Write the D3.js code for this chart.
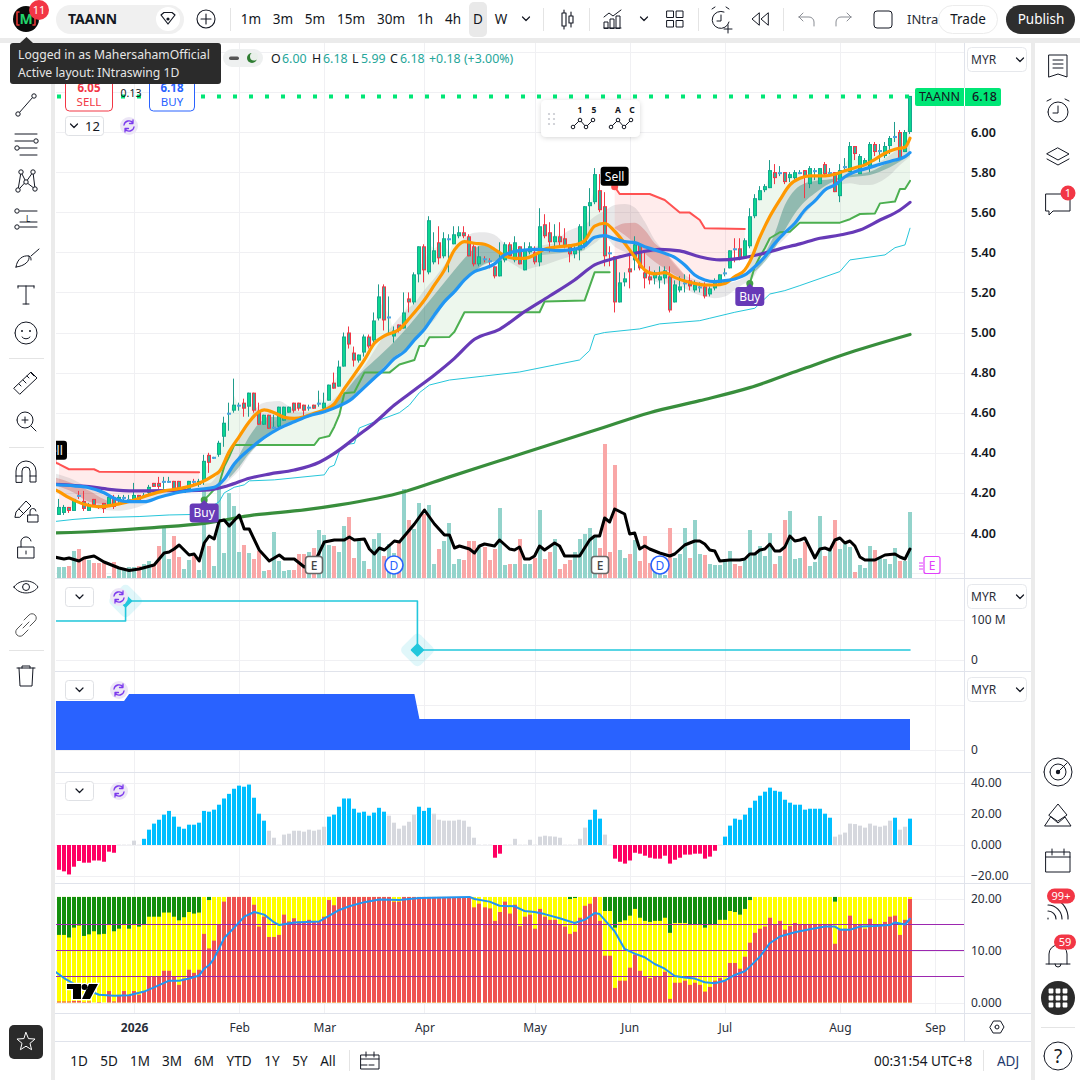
<!DOCTYPE html>
<html>
<head>
<meta charset="utf-8">
<script src="https://cdn.jsdelivr.net/npm/d3@7"></script>
<style>
  html, body { margin: 0; padding: 0; background: #fff; }
  text { font-family: "Noto Sans", sans-serif; fill: #131722; }
  .axis text { font-size: 12px; fill: #2a2e39; }
  .axis path, .axis line { display: none; }
</style>
</head>
<body>
<svg id="chart" width="1080" height="1080"></svg>
<script>
// candles, one per trading day
const opens = [
  4.09,4.10,4.13,4.11,4.19,4.16,4.11,4.17,4.14,4.15,
  4.14,4.18,4.16,4.17,4.16,4.16,4.19,4.18,4.20,4.25,
  4.25,4.25,4.26,4.26,4.26,4.20,4.22,4.26,4.24,4.26,
  4.39,4.37,4.39,4.48,4.60,4.61,4.64,4.65,4.63,4.70,
  4.61,4.54,4.59,4.53,4.53,4.56,4.60,4.65,4.65,4.64,
  4.62,4.64,4.64,4.62,4.66,4.75,4.73,4.83,5.00,4.90,
  4.86,4.90,4.98,4.96,5.07,5.23,5.08,4.98,5.04,5.02,
  5.17,5.15,5.29,5.43,5.30,5.35,5.45,5.38,5.46,5.44,
  5.48,5.50,5.48,5.43,5.34,5.37,5.36,5.33,5.28,5.36,
  5.44,5.36,5.43,5.31,5.40,5.40,5.35,5.54,5.50,5.45,
  5.48,5.47,5.44,5.39,5.41,5.43,5.63,5.65,5.71,5.63,
  5.40,5.38,5.15,5.25,5.32,5.36,5.44,5.30,5.28,5.27,
  5.26,5.27,5.28,5.15,5.21,5.24,5.26,5.21,5.23,5.23,
  5.19,5.22,5.24,5.29,5.32,5.42,5.42,5.37,5.43,5.58,
  5.66,5.71,5.72,5.80,5.80,5.80,5.77,5.77,5.80,5.81,
  5.74,5.81,5.74,5.84,5.80,5.80,5.68,5.82,5.80,5.93,
  5.79,5.84,5.82,5.94,5.91,5.88,5.93,5.98,6.00,5.90,
  6.00]
const closes = [
  4.13,4.13,4.11,4.17,4.18,4.12,4.14,4.14,4.13,4.12,
  4.18,4.13,4.18,4.18,4.17,4.19,4.16,4.19,4.23,4.23,
  4.23,4.26,4.26,4.22,4.21,4.23,4.26,4.25,4.26,4.36,
  4.35,4.38,4.45,4.55,4.60,4.64,4.64,4.62,4.70,4.61,
  4.54,4.59,4.52,4.53,4.63,4.63,4.63,4.61,4.62,4.61,
  4.63,4.62,4.65,4.65,4.74,4.72,4.83,4.98,4.94,4.86,
  4.89,4.98,4.93,5.06,5.18,5.06,5.08,5.01,5.01,5.10,
  5.15,5.29,5.43,5.31,5.56,5.41,5.37,5.47,5.47,5.49,
  5.50,5.48,5.38,5.34,5.38,5.36,5.35,5.28,5.36,5.44,
  5.38,5.45,5.34,5.41,5.43,5.35,5.53,5.48,5.45,5.48,
  5.45,5.43,5.39,5.42,5.53,5.63,5.65,5.79,5.61,5.38,
  5.39,5.15,5.25,5.27,5.30,5.44,5.32,5.27,5.26,5.30,
  5.28,5.31,5.11,5.24,5.23,5.25,5.23,5.24,5.23,5.18,
  5.22,5.26,5.29,5.30,5.41,5.41,5.37,5.46,5.58,5.67,
  5.71,5.73,5.81,5.77,5.80,5.75,5.79,5.80,5.80,5.78,
  5.82,5.81,5.82,5.79,5.80,5.70,5.81,5.83,5.93,5.89,
  5.88,5.86,5.94,5.90,5.91,5.93,5.97,5.98,5.87,6.00,
  6.18]
const highs = [
  4.17,4.14,4.13,4.17,4.21,4.21,4.15,4.17,4.14,4.15,
  4.18,4.19,4.19,4.19,4.19,4.25,4.19,4.20,4.24,4.25,
  4.28,4.28,4.28,4.26,4.26,4.23,4.26,4.27,4.27,4.39,
  4.40,4.38,4.46,4.58,4.65,4.77,4.65,4.67,4.70,4.70,
  4.65,4.59,4.59,4.59,4.63,4.63,4.63,4.65,4.65,4.64,
  4.64,4.64,4.71,4.70,4.74,4.80,4.86,5.00,5.03,4.93,
  4.89,4.99,4.99,5.10,5.24,5.24,5.18,5.03,5.04,5.20,
  5.20,5.30,5.43,5.44,5.58,5.50,5.53,5.50,5.49,5.53,
  5.53,5.53,5.49,5.44,5.43,5.38,5.37,5.33,5.45,5.45,
  5.45,5.48,5.43,5.45,5.45,5.43,5.62,5.59,5.55,5.54,
  5.55,5.52,5.44,5.43,5.54,5.63,5.72,5.82,5.79,5.70,
  5.43,5.38,5.30,5.30,5.40,5.48,5.44,5.40,5.33,5.31,
  5.33,5.33,5.33,5.26,5.28,5.29,5.29,5.26,5.25,5.25,
  5.23,5.27,5.29,5.32,5.41,5.47,5.47,5.47,5.62,5.69,
  5.73,5.74,5.86,5.84,5.83,5.80,5.80,5.81,5.81,5.81,
  5.83,5.82,5.82,5.85,5.82,5.80,5.84,5.87,5.95,5.93,
  5.89,5.87,5.95,5.95,5.94,5.95,5.98,6.05,6.01,6.01,
  6.18]
const lows = [
  4.09,4.09,4.10,4.11,4.17,4.11,4.11,4.13,4.12,4.10,
  4.13,4.12,4.15,4.16,4.15,4.16,4.16,4.18,4.19,4.23,
  4.22,4.22,4.25,4.22,4.21,4.20,4.22,4.24,4.23,4.24,
  4.30,4.37,4.38,4.43,4.51,4.60,4.61,4.58,4.58,4.60,
  4.54,4.54,4.52,4.52,4.52,4.56,4.60,4.60,4.61,4.58,
  4.61,4.62,4.63,4.61,4.66,4.72,4.73,4.83,4.92,4.83,
  4.85,4.88,4.92,4.95,5.06,5.01,4.99,4.95,5.00,5.02,
  5.10,5.14,5.25,5.25,5.29,5.34,5.34,5.37,5.30,5.44,
  5.47,5.47,5.38,5.33,5.33,5.35,5.32,5.27,5.28,5.35,
  5.38,5.35,5.34,5.31,5.39,5.34,5.33,5.47,5.40,5.43,
  5.43,5.42,5.35,5.37,5.36,5.42,5.53,5.64,5.60,5.33,
  5.33,5.10,5.15,5.23,5.22,5.31,5.31,5.22,5.24,5.24,
  5.22,5.24,5.10,5.15,5.20,5.20,5.21,5.20,5.20,5.17,
  5.18,5.21,5.24,5.28,5.32,5.35,5.36,5.37,5.42,5.57,
  5.66,5.70,5.72,5.74,5.78,5.74,5.75,5.76,5.79,5.67,
  5.72,5.76,5.74,5.78,5.78,5.70,5.65,5.81,5.80,5.86,
  5.79,5.83,5.80,5.88,5.85,5.87,5.89,5.95,5.86,5.90,
  5.99]
const volumes = [
  11,11,12,27,29,21,18,15,15,16,
  2,16,11,8,11,11,12,14,17,14,
  32,50,19,42,21,9,18,22,8,90,
  32,12,93,25,85,72,26,33,25,19,
  27,7,8,46,17,7,8,8,24,24,
  26,30,48,43,33,32,26,52,61,20,
  37,17,9,39,45,22,34,25,36,89,
  58,49,75,64,73,14,29,37,55,14,
  19,18,37,37,33,31,18,29,70,13,
  14,14,39,14,14,20,68,19,26,39,
  9,14,18,26,39,44,50,43,30,134,
  26,113,28,20,24,38,17,42,15,6,
  4,3,50,20,24,50,20,58,24,23,
  14,13,13,19,27,14,12,18,48,24,
  32,22,45,14,22,58,67,19,20,36,
  12,16,62,22,28,58,29,34,31,6,
  13,10,32,28,21,19,14,30,17,17,
  66]

// moving average of the volume
const volMaIdx = [-1,1,2,4,5,7,9,12,14,16,19,21,22,23,24,26,27,28,29,30,31,32,33,34,36,37,38,40,42,44,45,47,49,51,53,55,57,58,59,61,62,63,64,65,67,68,70,71,73,75,77,78,79,80,82,83,84,85,87,88,90,91,92,93,94,95,96,97,99,100,101,104,106,107,108,109,110,111,113,114,115,116,117,118,120,122,123,125,127,128,129,130,131,132,134,136,137,138,139,140,141,142,143,144,145,146,147,148,149,151,152,153,154,155,156,157,158,159,160,161,163,165,167,168,169,170]
const volMaVal = [21,19,20,17,20,22,16,10,7.5,9,13,25,26,29,33,23,24,17,35,42,39,57,58,52,63,49,49,28,17,23,19,19,11,15,36,38,38,41,38,39,29,24,30,28,37,36,48,54,68,54,43,43,30,32,29,25,32,34,32,38,29,28,31,19,19,22,32,28,35,32,22,22,38,42,42,60,56,69,64,44,45,29,32,29,25,22,24,33,37,37,34,28,27,17,18,18,19,24,24,28,29,34,27,27,31,42,37,38,40,20,29,30,28,38,40,35,37,32,21,18,18,23,24,21,19,29]

// moving averages on price
const orangeIdx = [-1,0,2,5,8,12,15,18,21,24,28,31,32,34,36,38,40,41,43,45,47,49,51,53,55,56,57,58,61,63,65,68,70,73,75,77,79,81,83,85,87,89,91,93,95,97,100,103,105,107,109,111,113,115,117,119,121,123,125,127,129,131,133,135,137,138,140,142,144,146,148,150,153,155,157,159,161,163,165,167,169,170]
const orangeVal = [4.218,4.206,4.176,4.143,4.131,4.145,4.165,4.19,4.21,4.221,4.248,4.289,4.306,4.406,4.481,4.555,4.605,4.614,4.60,4.577,4.572,4.58,4.597,4.614,4.644,4.68,4.72,4.755,4.863,4.946,4.983,5.016,5.071,5.162,5.237,5.312,5.412,5.453,5.445,5.44,5.415,5.383,5.37,5.37,5.387,5.415,5.428,5.437,5.458,5.531,5.545,5.505,5.445,5.378,5.312,5.292,5.299,5.275,5.257,5.245,5.237,5.237,5.245,5.279,5.312,5.353,5.475,5.578,5.661,5.736,5.769,5.781,5.781,5.789,5.807,5.822,5.836,5.864,5.894,5.914,5.924,5.969]
const blueIdx = [-1,3,6,9,11,14,17,20,24,28,31,33,35,38,41,44,47,50,53,56,58,60,63,65,67,69,71,73,75,77,79,81,83,85,87,89,92,96,100,103,105,107,109,111,113,115,117,119,121,123,125,127,129,131,133,135,137,139,141,143,145,147,149,151,153,155,157,159,161,163,165,167,169,170]
const blueVal = [4.241,4.235,4.226,4.201,4.173,4.156,4.156,4.178,4.203,4.218,4.228,4.268,4.344,4.417,4.476,4.522,4.555,4.585,4.605,4.634,4.66,4.703,4.773,4.818,4.87,4.905,4.963,5.016,5.088,5.154,5.204,5.262,5.304,5.32,5.342,5.387,5.408,5.415,5.408,5.415,5.432,5.475,5.483,5.467,5.453,5.448,5.428,5.412,5.395,5.375,5.337,5.287,5.262,5.254,5.259,5.267,5.287,5.328,5.378,5.445,5.498,5.545,5.611,5.656,5.711,5.736,5.777,5.802,5.816,5.831,5.847,5.86,5.877,5.897]
const purpleIdx = [-1,6,10,15,21,26,30,34,38,42,47,52,55,58,59,63,67,71,75,79,83,88,93,98,103,107,111,116,120,124,128,132,136,140,144,148,152,156,160,164,168,170]
const purpleVal = [4.243,4.231,4.218,4.21,4.211,4.211,4.215,4.238,4.273,4.294,4.314,4.353,4.397,4.452,4.472,4.549,4.638,4.713,4.788,4.871,4.966,5.016,5.104,5.182,5.262,5.337,5.37,5.40,5.415,5.407,5.378,5.362,5.37,5.39,5.417,5.442,5.47,5.486,5.511,5.561,5.611,5.649]
const longMaIdx = [-1,9,19,29,39,49,56,69,78,88,98,108,118,128,138,148,158,170]
const longMaVal = [4.0,4.01,4.027,4.048,4.09,4.115,4.14,4.206,4.28,4.36,4.44,4.52,4.60,4.66,4.725,4.813,4.90,4.99]
const cyanIdx = [-1,3,8,16,22,28,32,33,35,37,38,43,53,54,55,56,57,59,60,63,68,70,72,74,78,85,92,99,104,106,107,109,116,120,128,130,135,139,142,145,148,156,158,165,167,169,170]
const cyanVal = [4.057,4.068,4.077,4.082,4.09,4.093,4.156,4.2,4.228,4.24,4.26,4.265,4.29,4.328,4.338,4.406,4.44,4.447,4.524,4.554,4.60,4.638,4.70,4.738,4.763,4.783,4.803,4.838,4.863,4.91,4.988,5.0,5.018,5.043,5.059,5.071,5.101,5.121,5.192,5.209,5.234,5.304,5.362,5.387,5.423,5.437,5.52]

// trailing stop, green while long, red while short
const stopLong1Idx = [29,30,32,33,34,35,50,51,52,54,55,56,57,59,61,66,68,71,72,73,74,78,79,81,96,97,105,107,110]
const stopLong1Val = [4.165,4.19,4.244,4.331,4.381,4.439,4.439,4.439,4.472,4.484,4.53,4.589,4.697,4.702,4.80,4.80,4.84,4.863,4.933,4.933,4.976,4.978,5.004,5.101,5.101,5.154,5.159,5.30,5.30]
const stopLong2Idx = [138,139,140,141,142,144,146,148,156,158,160,163,164,167,168,169,170]
const stopLong2Val = [5.245,5.328,5.378,5.42,5.47,5.50,5.503,5.548,5.548,5.565,5.591,5.594,5.644,5.653,5.716,5.716,5.756]
const stopShort1Idx = [-1,0,2,7,8,28]
const stopShort1Val = [4.354,4.344,4.318,4.318,4.306,4.303]
const stopShort2Idx = [111,112,118,121,124,126,128,129,137]
const stopShort2Val = [5.727,5.691,5.691,5.661,5.598,5.598,5.561,5.52,5.516]

// ribbon around the averages
const greyIdx = [-1,3,6,9,12,15,18,21,24,28,30,32,34,36,38,40,42,44,46,48,50,52,54,56,58,60,62,64,67,69,71,73,75,77,79,81,83,85,87,89,91,93,95,97,99,101,103,105,107,109,111,113,115,117,119,121,123,125,127,129,131,133,135,137,138,140,142,144,146,148,150,152,154,156,158,160,162,164,166,168,170]
const greyTop = [4.298,4.264,4.223,4.19,4.168,4.165,4.19,4.203,4.218,4.245,4.248,4.306,4.406,4.489,4.564,4.639,4.655,4.658,4.63,4.605,4.605,4.614,4.647,4.697,4.763,4.80,4.87,4.95,5.046,5.104,5.146,5.212,5.27,5.337,5.403,5.47,5.498,5.5,5.487,5.445,5.42,5.412,5.428,5.437,5.445,5.495,5.52,5.536,5.578,5.607,5.636,5.641,5.624,5.553,5.461,5.403,5.337,5.287,5.265,5.25,5.245,5.245,5.254,5.279,5.353,5.453,5.57,5.669,5.736,5.769,5.781,5.786,5.794,5.802,5.811,5.822,5.836,5.852,5.885,5.919,5.944]
const greyBot = [4.211,4.156,4.131,4.115,4.111,4.123,4.151,4.181,4.198,4.223,4.223,4.223,4.264,4.314,4.389,4.447,4.489,4.522,4.547,4.564,4.58,4.597,4.614,4.63,4.655,4.70,4.74,4.79,4.863,4.896,4.971,5.021,5.063,5.146,5.196,5.262,5.304,5.337,5.354,5.362,5.337,5.312,5.325,5.337,5.354,5.37,5.387,5.412,5.445,5.478,5.428,5.403,5.378,5.295,5.254,5.245,5.245,5.22,5.195,5.179,5.171,5.179,5.212,5.245,5.254,5.328,5.403,5.445,5.495,5.561,5.62,5.678,5.719,5.736,5.744,5.736,5.736,5.752,5.786,5.836,5.877]
const tealAIdx = [34,36,38,40,42,44,47,50,53,57,60,63,67,70,73,76,79,81,83,85,87,89]
const tealATop = [4.298,4.389,4.481,4.547,4.58,4.577,4.572,4.592,4.61,4.70,4.79,4.86,4.955,5.038,5.129,5.22,5.312,5.37,5.42,5.437,5.412,5.382]
const tealABot = [4.273,4.331,4.397,4.447,4.489,4.522,4.555,4.584,4.60,4.65,4.71,4.78,4.88,4.93,5.021,5.112,5.204,5.262,5.304,5.342,5.354,5.37]
const tealBIdx = [96,100,105]
const tealBTop = [5.40,5.41,5.44]
const tealBBot = [5.385,5.395,5.41]
const tealCIdx = [139,141,143,145,147,149,151,154,158,162,166,170]
const tealCTop = [5.312,5.395,5.495,5.636,5.711,5.744,5.756,5.764,5.786,5.802,5.852,5.894]
const tealCBot = [5.304,5.353,5.42,5.511,5.594,5.653,5.694,5.744,5.774,5.786,5.824,5.885]
const roseAIdx = [-1,3,6,9,11]
const roseATop = [4.278,4.245,4.211,4.168,4.148]
const roseABot = [4.24,4.201,4.156,4.145,4.143]
const roseBIdx = [111,113,115,117,119,121,123,125]
const roseBTop = [5.525,5.545,5.548,5.511,5.445,5.403,5.345,5.287]
const roseBBot = [5.52,5.486,5.445,5.395,5.353,5.32,5.287,5.265]

// flows pane and market cap pane
const flowIdx = [-1,13.3,13.3,71.6,71.6,170]
const flowVal = [97.5,97.5,147.5,147.5,25,25]
const flowMarkIdx = [13.3,71.6]
const flowMarkVal = [147.5,25]
const capIdx = [-1,13,14,71,72,170]
const capVal = [49,49,56,56,31,31]

// momentum histogram
const histogram = [
  -16,-17,-19,-14,-10.3,-11.4,-11.4,-10,-10,-10.8,
  -4.3,-5,0.2,0.2,0.2,2.8,0.2,4,9.9,13.8,
  16.3,19.6,22,18.3,11.8,10.5,13.1,13.1,14.4,22,
  21.5,22.8,26,30,33,36.3,38.3,37.6,39,30.5,
  20.2,15.7,9.2,4.7,0.2,6.7,7.3,9.2,9.2,8.6,
  9.9,9.2,9.9,11.8,18.3,19.6,24.7,30,30,23.4,
  20.9,21.5,18.9,20.9,24,21.5,18.9,14.4,10.5,12.5,
  15,19.6,24.7,22,24,20.2,16.3,15.7,15.7,15.7,
  16.3,15.7,11.8,4.7,0.2,0.2,0.2,-8.2,-5.6,0.2,
  0.2,4,0.2,0.2,3.4,0.2,5.4,6,5.6,5.4,
  4.7,0.2,0.2,0.2,4,11.2,16.3,22.8,17,6.7,
  0.2,-8.8,-10.8,-12,-10,-5,-5.6,-6.9,-8.2,-8.8,
  -8.8,-6.9,-12,-9.5,-8.2,-6.2,-6.2,-5.6,-5.6,-8.8,
  -7.5,-3.7,0.2,5.4,12.5,17,16.3,19.6,24,28.6,
  31.8,34.4,37,35,34.4,29.2,27.3,26,26,22.8,
  23.4,23.4,23.4,20.2,17.6,5.4,6.7,8,13.8,13.5,
  12.5,11.2,13.8,12.5,11.8,12.5,15.7,17.6,9.9,11.8,
  17]
const histStrongFrom = [17,54,72,106,133,167,170]
const histStrongTo = [41,65,74,108,154,167,170]

// stacked oscillator pane: red from zero, yellow to greenFloor, green to stackTop
const stackTop = 20.3
const stackRed = [
  .2,.2,.2,.3,.3,.1,.2,0,.1,0,
  2.2,.2,1.3,2.2,1.5,2.2,1.5,2.2,4.9,4.9,
  4.9,6.1,6.1,4.9,3.4,4.6,6.3,5.7,6.3,13.2,
  10.4,11.9,14.9,19.4,20.3,20.3,20.3,20.3,20.3,18.8,
  14.6,16.5,12.6,12.6,13,16.9,15.6,16.2,15.6,15.6,
  15.9,15.6,15.6,16.5,19.7,18.7,20.3,20.3,20.3,20.3,
  20.3,20.3,20.3,20.3,20.3,20.3,20.3,19.4,19.4,20.3,
  20.3,20.3,20.3,20.3,20.3,20.3,20.3,20.3,20.3,20.3,
  20.3,20.3,20.3,18.3,19,18.3,18.1,15.7,17.4,19.4,
  17.1,18.8,14.7,16.5,16.9,14.2,18,16.5,15.9,15.9,
  15.1,14.6,13.2,13.6,16.3,18.6,19,20.3,15.7,9,
  9,2.8,4.2,4.2,6.7,9.2,6.1,4.9,4.7,4.9,
  4.9,5.9,.7,3.8,3.8,4.2,3.4,3.8,3.4,2.1,
  3,4.2,4.7,4.2,7.6,7.6,6.5,8.8,11.5,13.4,
  14.2,14.6,16.3,15,15.7,14,14.7,15.3,15.1,14.9,
  14.9,15.1,15.1,15.1,15.1,11.3,14.2,14.2,16.7,14.9,
  14.9,14.2,16.1,14.9,15.1,15.5,16.5,16.7,13,15.9,
  19.9]
const stackGreenFloor = [
  13,13,12.5,14.4,14.8,12.8,13.1,13.7,13.1,13.2,
  14.9,13.7,14.2,14.9,14.2,14.9,14.6,14.9,16.5,16.5,
  16.5,17.3,17.3,16.5,15.8,16.4,17.4,17.1,17.3,20.3,
  19.7,20.3,20.3,20.3,20.3,20.3,20.3,20.3,20.3,20.3,
  20.3,20.3,20.3,20.3,20.3,20.3,20.3,20.3,20.3,20.3,
  20.3,20.3,20.3,20.3,20.3,20.3,20.3,20.3,20.3,20.3,
  20.3,20.3,20.3,20.3,20.3,20.3,20.3,20.3,20.3,20.3,
  20.3,20.3,20.3,20.3,20.3,20.3,20.3,20.3,20.3,20.3,
  20.3,20.3,20.3,20.3,20.3,20.3,20.3,20.3,20.3,20.3,
  20.3,20.3,20.3,20.3,20.3,20.3,20.3,20.3,20.3,20.3,
  20.3,20.3,19.9,20.1,20.3,20.3,20.3,20.3,20.3,17.6,
  17.6,14.4,15.5,15.8,16.7,18,16.3,15.7,15.5,15.7,
  15.7,16.3,13.4,15.3,15.3,15.3,14.9,15.1,14.9,14.4,
  14.9,15.1,15.9,15.9,17.6,17.4,16.9,18,19.7,20.3,
  20.3,20.3,20.3,20.3,20.3,20.3,20.3,20.3,20.3,20.3,
  20.3,20.3,20.3,20.3,20.3,19.4,20.3,20.3,20.3,20.3,
  20.3,20.3,20.3,20.3,20.3,20.3,20.3,20.3,20.3,20.3,
  20.3]
const signalIdx = [-1,1,3,6,8,11,14,17,19,22,24,26,28,29,30,31,33,35,37,39,41,43,44,47,52,54,56,58,61,64,68,72,82,83,86,88,91,93,95,97,100,103,105,107,108,109,111,113,115,117,119,121,123,125,127,129,131,133,135,137,138,140,142,144,147,150,153,155,156,158,160,163,166,167,169,170]
const signalVal = [6.1,4.7,3.6,2.2,1.5,1.3,1.4,2.1,2.9,4.2,4.2,4.6,5.2,6.5,7.2,8.5,12.4,14.4,16.5,17.4,16.9,15.4,14.9,15.4,15.6,16.7,17.8,18.5,19.3,19.8,19.7,20.1,20.3,19.9,19.4,18.6,18.5,17.6,17.4,17,16.2,15.3,15.9,17.2,17,15.9,13.7,10.3,9.4,8.7,7.4,6.5,5.1,4.8,4.6,3.9,3.7,4.2,5.3,6,6.9,8.8,11.4,12.7,13.5,14.1,14.6,14.6,14,14,14.6,14.7,14.9,15.4,15,16.1]
const stackLevels = [5,10,15]

// axes
const priceTicks = [6.4,6.2,6.0,5.8,5.6,5.4,5.2,5.0,4.8,4.6,4.4,4.2,4.0,3.8]
const priceLabels = [6.0,5.8,5.6,5.4,5.2,5.0,4.8,4.6,4.4,4.2,4.0]
const flowTicks = [100,0]
const capTicks = [0]
const histTicks = [40,20,0,-20]
const stackTicks = [20,10,0]
const monthIdx = [15,36,53,73,95,114,133,156,175]
const monthLabels = ["2026","Feb","Mar","Apr","May","Jun","Jul","Aug","Sep"]

// corporate events and signals
const earningsIdx = [51,108]
const dividendIdx = [67,120]
const buyIdx = [29,138]
const buyPrice = [4.165,5.245]
const sellIdx = [-1.2,111]
const sellPrice = [4.36,5.727]
const lastClose = 6.18

const svg = d3.select("#chart")
const PANE_L = 56, AXIS_X = 964

const x = d3.scaleLinear().domain([0, 170]).range([59, 910])
const yPrice = d3.scaleLinear().domain([4, 6]).range([533, 132])
const yVol = d3.scaleLinear().domain([0, 134]).range([578, 444])
const yFlow = d3.scaleLinear().domain([0, 100]).range([660, 620])
const yCap = d3.scaleLinear().domain([0, 56]).range([750, 694])
const yHist = d3.scaleLinear().domain([-20, 40]).range([876, 783])
const yStack = d3.scaleLinear().domain([0, 20]).range([1002.5, 898.5])

const panes = [
  { id: "pMain", top: 43, bottom: 578, grid: priceTicks.map(yPrice) },
  { id: "pFlow", top: 579, bottom: 671, grid: flowTicks.map(yFlow) },
  { id: "pCap", top: 672, bottom: 772, grid: [705, yCap(0)] },
  { id: "pHist", top: 773, bottom: 883, grid: histTicks.map(yHist) },
  { id: "pStack", top: 884, bottom: 1013, grid: stackTicks.map(yStack) },
]

const defs = svg.append("defs")
panes.forEach(p => {
  defs.append("clipPath").attr("id", "clip-" + p.id).append("rect")
    .attr("x", PANE_L).attr("y", p.top).attr("width", AXIS_X - PANE_L).attr("height", p.bottom - p.top)
})
const filter = defs.append("filter").attr("id", "soft").attr("x", "-20%").attr("y", "-20%").attr("width", "140%").attr("height", "150%")
filter.append("feDropShadow").attr("dx", 0).attr("dy", 1).attr("stdDeviation", 2.5).attr("flood-color", "#000").attr("flood-opacity", 0.16)

// page frame
svg.append("rect").attr("width", 1080).attr("height", 1080).attr("fill", "#fff")
svg.append("rect").attr("x", 0).attr("y", 38).attr("width", 1080).attr("height", 5).attr("fill", "#ebebeb")
svg.append("rect").attr("x", 51).attr("y", 38).attr("width", 4).attr("height", 1042).attr("fill", "#ebebeb")
svg.append("rect").attr("x", 1031).attr("y", 38).attr("width", 4).attr("height", 1042).attr("fill", "#ebebeb")

// grid
const gridLayer = svg.append("g").attr("stroke", "#f0f0f3").attr("stroke-width", 1)
panes.forEach(p => {
  p.grid.forEach(v => {
    const yy = Math.round(v) + .5
    if (yy < p.top || yy > p.bottom) return
    gridLayer.append("line").attr("x1", PANE_L).attr("x2", AXIS_X).attr("y1", yy).attr("y2", yy)
  })
  monthIdx.forEach(i => {
    const xx = Math.round(x(i)) + .5
    gridLayer.append("line").attr("x1", xx).attr("x2", xx).attr("y1", p.top).attr("y2", p.bottom)
  })
})

const line = (idx, val, yScale, curve) => d3.line()
  .x((d, i) => x(idx[i]))
  .y(d => yScale(d))
  .curve(curve || d3.curveMonotoneX)(val)

const band = (idx, top, bot, yScale) => d3.area()
  .x((d, i) => x(idx[i]))
  .y0((d, i) => yScale(bot[i]))
  .y1(d => yScale(d))
  .curve(d3.curveMonotoneX)(top)

const main = svg.append("g").attr("clip-path", "url(#clip-pMain)")

// volume goes under everything on the main pane
main.append("g").selectAll("rect").data(volumes).enter().append("rect")
  .attr("x", (d, i) => Math.round(x(i) - 2))
  .attr("width", 4)
  .attr("y", d => yVol(d))
  .attr("height", d => yVol(0) - yVol(d))
  .attr("fill", (d, i) => closes[i] >= opens[i] ? "#93d3cb" : "#f9a7a7")

// fill between the stop and the mid price
const drawStopFill = (idx, val, color) => {
  const from = Math.max(0, Math.ceil(idx[0])), to = idx[idx.length - 1]
  const stop = d3.scaleLinear().domain(idx).range(val)
  const days = d3.range(from, to + 1)
  main.append("path")
    .attr("d", d3.area().x(i => x(i))
      .y0(i => yPrice(stop(i)))
      .y1(i => yPrice((highs[i] + lows[i]) / 2))(days))
    .attr("fill", color)
}
drawStopFill(stopShort1Idx, stopShort1Val, "rgba(255,82,82,.11)")
drawStopFill(stopShort2Idx, stopShort2Val, "rgba(255,82,82,.11)")
drawStopFill(stopLong1Idx, stopLong1Val, "rgba(76,175,80,.1)")
drawStopFill(stopLong2Idx, stopLong2Val, "rgba(76,175,80,.1)")

main.append("path").attr("d", band(greyIdx, greyTop, greyBot, yPrice)).attr("fill", "rgba(110,113,120,.16)")
const bands = [
  [tealAIdx, tealATop, tealABot, "rgba(0,105,92,.33)"],
  [tealBIdx, tealBTop, tealBBot, "rgba(0,105,92,.2)"],
  [tealCIdx, tealCTop, tealCBot, "rgba(0,105,92,.33)"],
  [roseAIdx, roseATop, roseABot, "rgba(190,40,40,.25)"],
  [roseBIdx, roseBTop, roseBBot, "rgba(190,40,40,.25)"],
]
bands.forEach(b => main.append("path").attr("d", band(b[0], b[1], b[2], yPrice)).attr("fill", b[3]))

const drawLine = (g, idx, val, yScale, color, width, curve) => g.append("path")
  .attr("d", line(idx, val, yScale, curve))
  .attr("fill", "none").attr("stroke", color).attr("stroke-width", width)
  .attr("stroke-linejoin", "round").attr("stroke-linecap", "round")

drawLine(main, longMaIdx, longMaVal, yPrice, "#388e3c", 3.2)
drawLine(main, cyanIdx, cyanVal, yPrice, "#26c6da", 1, d3.curveLinear)
drawLine(main, stopLong1Idx, stopLong1Val, yPrice, "#4caf50", 2, d3.curveLinear)
drawLine(main, stopLong2Idx, stopLong2Val, yPrice, "#4caf50", 2, d3.curveLinear)
drawLine(main, stopShort1Idx, stopShort1Val, yPrice, "#ff5252", 2, d3.curveLinear)
drawLine(main, stopShort2Idx, stopShort2Val, yPrice, "#ff5252", 2, d3.curveLinear)

// candles
const candles = main.append("g").selectAll("g").data(closes).enter().append("g")
candles.append("line")
  .attr("x1", (d, i) => Math.round(x(i)) - .5).attr("x2", (d, i) => Math.round(x(i)) - .5)
  .attr("y1", (d, i) => yPrice(highs[i])).attr("y2", (d, i) => yPrice(lows[i]))
  .attr("stroke", (d, i) => d >= opens[i] ? "#1f9c8c" : "#f23645").attr("stroke-width", 1)
const bodyTop = i => yPrice(Math.max(opens[i], closes[i]))
const bodyH = i => Math.max(2, Math.abs(yPrice(opens[i]) - yPrice(closes[i])))
candles.append("rect")
  .attr("x", (d, i) => Math.round(x(i)) - 2).attr("width", 4)
  .attr("y", (d, i) => bodyTop(i)).attr("height", (d, i) => bodyH(i))
  .attr("fill", (d, i) => d >= opens[i] ? "#14a88f" : "#f23645")
candles.append("rect")
  .attr("x", (d, i) => Math.round(x(i)) - 1).attr("width", 2)
  .attr("y", (d, i) => bodyTop(i) + 1).attr("height", (d, i) => Math.max(0, bodyH(i) - 2))
  .attr("fill", (d, i) => d >= opens[i] ? "#0cd68f" : "#3aa99a")
// very small candles read blue under the ribbon
candles.filter((d, i) => Math.abs(d - opens[i]) < .011).select("rect")
  .attr("fill", "#4aa3df")

drawLine(main, purpleIdx, purpleVal, yPrice, "#673ab7", 3.2)
drawLine(main, orangeIdx, orangeVal, yPrice, "#ff9800", 3.2)
drawLine(main, blueIdx, blueVal, yPrice, "#2196f3", 3.2)
drawLine(main, volMaIdx, volMaVal, yVol, "#000", 3, d3.curveLinear)

// last price
main.append("line").attr("x1", PANE_L + 1).attr("x2", x(170) + 1)
  .attr("y1", Math.round(yPrice(lastClose)) + .5).attr("y2", Math.round(yPrice(lastClose)) + .5)
  .attr("stroke", "#00e676").attr("stroke-width", 4).attr("stroke-dasharray", "4 12")

// buy and sell flags
buyIdx.forEach((idx, k) => {
  const bx = x(idx), by = yPrice(buyPrice[k])
  main.append("circle").attr("cx", bx).attr("cy", by).attr("r", 3.5).attr("fill", "#43a047")
  main.append("path").attr("d", `M${bx - 4},${by + 4}L${bx},${by}L${bx + 4},${by + 4}Z`).attr("fill", "#673ab7")
  main.append("rect").attr("x", bx - 14.5).attr("y", by + 3.5).attr("width", 29).attr("height", 19).attr("rx", 3).attr("fill", "#673ab7")
  main.append("text").attr("x", bx).attr("y", by + 17.5).attr("text-anchor", "middle").attr("font-size", 12).style("fill", "#fff").text("Buy")
})
sellIdx.forEach((idx, k) => {
  const bx = x(idx), by = yPrice(sellPrice[k])
  main.append("circle").attr("cx", bx).attr("cy", by).attr("r", 3.5).attr("fill", "#ff5252")
  main.append("rect").attr("x", bx - 14).attr("y", by - 20).attr("width", 28).attr("height", 19).attr("rx", 3).attr("fill", "#000")
  main.append("text").attr("x", bx).attr("y", by - 6).attr("text-anchor", "middle").attr("font-size", 12).style("fill", "#fff").text("Sell")
})

// earnings and dividend badges
const evY = 565
earningsIdx.forEach(idx => {
  const ex = Math.round(x(idx))
  main.append("rect").attr("x", ex - 8.5).attr("y", evY - 8.5).attr("width", 17).attr("height", 17).attr("rx", 3)
    .attr("fill", "#fff").attr("stroke", "#666").attr("stroke-width", 1.5)
  main.append("text").attr("x", ex).attr("y", evY + 4.5).attr("text-anchor", "middle").attr("font-size", 12).attr("font-weight", 500).style("fill", "#444").text("E")
})
dividendIdx.forEach(idx => {
  const ex = Math.round(x(idx))
  main.append("circle").attr("cx", ex).attr("cy", evY).attr("r", 9).attr("fill", "#fff").attr("stroke", "#2962ff").attr("stroke-width", 1.6)
  main.append("text").attr("x", ex).attr("y", evY + 4.5).attr("text-anchor", "middle").attr("font-size", 12).style("fill", "#2962ff").text("D")
})
main.append("rect").attr("x", 924).attr("y", 556.5).attr("width", 16).attr("height", 17).attr("rx", 2)
  .attr("fill", "#fff").attr("stroke", "#e040fb").attr("stroke-width", 1.2)
main.append("path").attr("d", "M919,563h4M919,566h4M919,569h4").attr("stroke", "#e040fb").attr("stroke-width", 1)
main.append("text").attr("x", 932).attr("y", 569.5).attr("text-anchor", "middle").attr("font-size", 12).style("fill", "#e040fb").text("E")

// flows pane
const flow = svg.append("g").attr("clip-path", "url(#clip-pFlow)")
drawLine(flow, flowIdx, flowVal, yFlow, "#22c7dc", 1.6, d3.curveLinear)
flowMarkIdx.forEach((idx, k) => {
  const t = `translate(${x(idx)},${yFlow(flowMarkVal[k])})rotate(45)`
  flow.append("rect").attr("x", -13).attr("y", -13).attr("width", 26).attr("height", 26).attr("rx", 5).attr("fill", "#22c7dc").attr("opacity", .14).attr("transform", t)
  flow.append("rect").attr("x", -5).attr("y", -5).attr("width", 10).attr("height", 10).attr("rx", 1).attr("fill", "#22c7dc").attr("transform", t)
})

// market cap pane
svg.append("g").attr("clip-path", "url(#clip-pCap)").append("path")
  .attr("d", d3.area().x((d, i) => x(capIdx[i])).y0(yCap(0)).y1(d => yCap(d))(capVal))
  .attr("fill", "#2962ff")

// histogram pane
const isStrong = i => histStrongFrom.some((f, k) => i >= f && i <= histStrongTo[k])
svg.append("g").selectAll("rect").data(histogram).enter().append("rect")
  .attr("x", (d, i) => Math.round(x(i) - 2))
  .attr("width", 4)
  .attr("y", d => yHist(Math.max(d, 0)))
  .attr("height", d => Math.abs(yHist(d) - yHist(0)))
  .attr("fill", (d, i) => d < 0 ? "#ff0062" : isStrong(i) ? "#00bfff" : "#d6d8de")

// stacked pane
const stackPane = svg.append("g").attr("clip-path", "url(#clip-pStack)")
const stackBars = stackPane.append("g").selectAll("g").data(stackRed).enter().append("g")
const barAt = sel => sel.attr("x", (d, i) => Math.round(x(i) - 2)).attr("width", 4)
barAt(stackBars.append("rect")).attr("y", yStack(stackTop)).attr("height", yStack(0) - yStack(stackTop)).attr("fill", "#ffff00")
barAt(stackBars.append("rect"))
  .attr("y", yStack(stackTop))
  .attr("height", (d, i) => yStack(stackGreenFloor[i]) - yStack(stackTop))
  .attr("fill", "#138f0c")
barAt(stackBars.append("rect"))
  .attr("y", d => yStack(d))
  .attr("height", d => yStack(0) - yStack(d))
  .attr("fill", "#ef5350")
stackLevels.forEach(v => {
  stackPane.append("line").attr("x1", PANE_L).attr("x2", AXIS_X).attr("y1", yStack(v)).attr("y2", yStack(v))
    .attr("stroke", "#9c27b0").attr("stroke-width", 1)
})
drawLine(stackPane, signalIdx, signalVal, yStack, "#2196f3", 2, d3.curveLinear)

// chart vendor mark, bottom left of the last pane
const logo = stackPane.append("g").attr("transform", "translate(67,984)")
logo.append("path").attr("d", "M0,0H14V15H6V5H0Z M14.5,3a3,3 0 1 0 6,0a3,3 0 1 0 -6,0Z M22,0H31L23,15H15Z")
  .attr("fill", "#000").attr("stroke", "#fff").attr("stroke-width", 2.5).attr("paint-order", "stroke")

// pane borders and price axis rule
const sep = svg.append("g").attr("stroke", "#e0e3eb")
;[578.5, 671.5, 772.5, 883.5, 1013.5, 1041.5].forEach(v => {
  sep.append("line").attr("x1", 55).attr("x2", 1031).attr("y1", v).attr("y2", v)
})
sep.append("line").attr("x1", AXIS_X + .5).attr("x2", AXIS_X + .5).attr("y1", 43).attr("y2", 1041)

// axes
const axisG = svg.append("g").attr("class", "axis")
const priceAxis = axisG.append("g").attr("transform", `translate(${AXIS_X},0)`)
  .call(d3.axisRight(yPrice).tickValues(priceLabels).tickFormat(d3.format(".2f")).tickSize(0).tickPadding(7))
priceAxis.selectAll("text").attr("font-weight", 600).style("font-size", "12.5px").style("fill", "#131722")
axisG.append("g").attr("transform", `translate(${AXIS_X},0)`)
  .call(d3.axisRight(yFlow).tickValues(flowTicks).tickFormat(d => d ? d + " M" : "0").tickSize(0).tickPadding(7))
axisG.append("g").attr("transform", `translate(${AXIS_X},0)`)
  .call(d3.axisRight(yCap).tickValues(capTicks).tickFormat(() => "0").tickSize(0).tickPadding(7))
axisG.append("g").attr("transform", `translate(${AXIS_X},0)`)
  .call(d3.axisRight(yHist).tickValues(histTicks).tickFormat(d => d == 0 ? "0.000" : d < 0 ? "\u2212" + d3.format(".2f")(-d) : d3.format(".2f")(d)).tickSize(0).tickPadding(7))
axisG.append("g").attr("transform", `translate(${AXIS_X},0)`)
  .call(d3.axisRight(yStack).tickValues(stackTicks).tickFormat(d => d == 0 ? "0.000" : d3.format(".2f")(d)).tickSize(0).tickPadding(7))
const timeAxis = axisG.append("g").attr("transform", "translate(0,1020)")
  .call(d3.axisBottom(x).tickValues(monthIdx).tickFormat((d, i) => monthLabels[i]).tickSize(0).tickPadding(3))
timeAxis.selectAll("text").filter((d, i) => i == 0).attr("font-weight", 700)

// last price tag
svg.append("rect").attr("x", 915).attr("y", 88).attr("width", 86).attr("height", 18).attr("rx", 2).attr("fill", "#00e676")
svg.append("line").attr("x1", 964.5).attr("x2", 964.5).attr("y1", 88).attr("y2", 106).attr("stroke", "#fff")
svg.append("text").attr("x", 919).attr("y", 101).attr("font-size", 12.5).text("TAANN")
svg.append("text").attr("x", 972).attr("y", 101).attr("font-size", 12.5).attr("font-weight", 500).text("6.18")

// ---- ui chrome ----
const ink = "#131722"
const txt = (tx, ty, s, size, opts) => {
  const o = opts || {}
  return svg.append("text").attr("x", tx).attr("y", ty).attr("font-size", size || 13.5)
    .attr("text-anchor", o.anchor || "start").attr("font-weight", o.weight || 400)
    .style("fill", o.color || ink).text(s)
}
const icon = (ix, iy, d, opts) => {
  const o = opts || {}
  const g = svg.append("g").attr("transform", `translate(${ix},${iy})`)
  g.append("path").attr("d", d).attr("fill", o.fill || "none").attr("stroke", o.color || ink)
    .attr("stroke-width", o.width || 1).attr("stroke-linecap", "round").attr("stroke-linejoin", "round")
  ;(o.dots || []).forEach(c => g.append("circle").attr("cx", c[0]).attr("cy", c[1]).attr("r", c[2] || 2.2)
    .attr("fill", "#fff").attr("stroke", o.color || ink))
  return g
}
const chevron = (cx, cy, color) => icon(cx, cy, "M-3.5,-2L0,1.5L3.5,-2", { color: color || ink, width: 1.2 })
const vsep = (vx, y1, y2) => svg.append("line").attr("x1", vx + .5).attr("x2", vx + .5).attr("y1", y1).attr("y2", y2).attr("stroke", "#e4e4e4")
const hsep = (x1, x2, hy) => svg.append("line").attr("x1", x1).attr("x2", x2).attr("y1", hy + .5).attr("y2", hy + .5).attr("stroke", "#e4e4e4")
const badge = (bx, by, s, w) => {
  svg.append("rect").attr("x", bx - w / 2).attr("y", by - 7.5).attr("width", w).attr("height", 15).attr("rx", 7.5).attr("fill", "#f23645")
  txt(bx, by + 4, s, 11, { anchor: "middle", color: "#fff" })
}

// top bar
svg.append("circle").attr("cx", 26).attr("cy", 19).attr("r", 13).attr("fill", "#0a0a0a")
txt(26, 24, "M", 14, { anchor: "middle", color: "#22d36b", weight: 700 })
icon(26, 19, "M-9,-7H-7M-9,-7V6H-7M9,-7H7M9,-7V6H7", { color: "#e53935", width: 1.6 })
svg.append("circle").attr("cx", 39).attr("cy", 10).attr("r", 10).attr("fill", "#f23645")
txt(39, 14, "11", 11, { anchor: "middle", color: "#fff" })
svg.append("rect").attr("x", 56).attr("y", 5).attr("width", 128).attr("height", 29).attr("rx", 14.5).attr("fill", "#f0f0f0")
txt(68, 24, "TAANN", 14, { weight: 700 })
svg.append("circle").attr("cx", 168).attr("cy", 19).attr("r", 12).attr("fill", "#fff")
icon(168, 19, "M-7,-4L-4,-6.5H4L7,-4L0,5Z", { width: 1.2 })
svg.append("circle").attr("cx", 168).attr("cy", 19).attr("r", 1.6).attr("fill", ink)
icon(206, 19, "M-9,0a9,9 0 1 0 18,0a9,9 0 1 0 -18,0M-5,0H5M0,-5V5", { width: 1.1 })
vsep(230, 8, 31)
const intervals = [["1m", 251], ["3m", 283], ["5m", 315], ["15m", 351], ["30m", 391], ["1h", 425], ["4h", 453], ["D", 478], ["W", 501]]
svg.append("rect").attr("x", 469).attr("y", 2).attr("width", 18).attr("height", 35).attr("rx", 5).attr("fill", "#e9e9e9")
intervals.forEach(d => txt(d[1], 24, d[0], 13.5, { anchor: "middle" }))
chevron(526, 19)
vsep(543, 8, 31)
icon(567, 19, "M-5,-6H-1V7H-5ZM-3,-9V-6M-3,7V10M2,-3H6V4H2ZM4,-7V-3M4,4V8", { width: 1.1 })
vsep(589, 8, 31)
icon(613, 19, "M-9,9V3H-5V9ZM-3,9V0H1V9ZM3,9V-3H7V9ZM-9,9H8M-9,-2L-4,-6L0,-3L8,-9", { width: 1 })
chevron(644, 19)
icon(675, 19, "M-8,-8H-1.5V-1.5H-8ZM1.5,-8H8V-1.5H1.5ZM-8,1.5H-1.5V8H-8ZM1.5,1.5H8V8H1.5Z", { width: 1 })
vsep(698, 8, 31)
icon(721, 20, "M8,2a8.5,8.5 0 1 1 -5,-10M0,-5V1H-4M-9,-11L-6,-13M8,-11L5,-13M7,5V13M3,9H11", { width: 1 })
icon(760, 19, "M-1,-6L-8,0L-1,6ZM8,-6L1,0L8,6Z", { width: 1 })
vsep(783, 8, 31)
icon(806, 20, "M-7,-3H3a5,5 0 0 1 5,5V6M-7,-3L-3,-7M-7,-3L-3,1", { color: "#8a8d94", width: 1 })
icon(844, 20, "M7,-3H-3a5,5 0 0 0 -5,5V6M7,-3L3,-7M7,-3L3,1", { color: "#8a8d94", width: 1 })
svg.append("rect").attr("x", 874).attr("y", 11).attr("width", 18).attr("height", 17).attr("rx", 3).attr("fill", "none").attr("stroke", ink)
svg.append("text").attr("x", 907).attr("y", 24).attr("font-size", 13).style("fill", "#2a2e39").text("INtra")
svg.append("rect").attr("x", 938.5).attr("y", 5.5).attr("width", 59).attr("height", 28).attr("rx", 14).attr("fill", "#fff").attr("stroke", "#ececec")
txt(968, 24, "Trade", 13.5, { anchor: "middle" })
svg.append("rect").attr("x", 1006).attr("y", 5).attr("width", 69).attr("height", 29).attr("rx", 14.5).attr("fill", "#2e2e2e")
txt(1041, 24, "Publish", 13.5, { anchor: "middle", color: "#fff" })

// legend row and price pane controls
svg.append("rect").attr("x", 223).attr("y", 49).attr("width", 40).attr("height", 18).attr("rx", 9).attr("fill", "#eef0f0")
svg.append("rect").attr("x", 229).attr("y", 56.5).attr("width", 10).attr("height", 3.5).attr("rx", 1.7).attr("fill", "#555")
svg.append("circle").attr("cx", 252).attr("cy", 58).attr("r", 5).attr("fill", "#2e7d32")
svg.append("circle").attr("cx", 254).attr("cy", 56.5).attr("r", 4).attr("fill", "#e9f0ea")
const upCol = "#26a69a"
;[[271, "O", ink], [282, "6.00", upCol], [312, "H", ink], [323, "6.18", upCol], [352, "L", ink], [361, "5.99", upCol], [390, "C", ink], [400, "6.18", upCol], [429, "+0.18 (+3.00%)", upCol]]
  .forEach(d => txt(d[0], 63, d[1], 12.4, { color: d[2] }))

// sell / buy ticket buttons
svg.append("rect").attr("x", 65.5).attr("y", 79).attr("width", 47).attr("height", 32).attr("rx", 4).attr("fill", "#fff").attr("stroke", "#f23645")
txt(89, 92, "6.05", 11.5, { anchor: "middle", color: "#f23645", weight: 700 })
txt(89, 106, "SELL", 11.5, { anchor: "middle", color: "#f23645" })
txt(131, 97, "0.13", 10.5, { anchor: "middle" })
svg.append("rect").attr("x", 149.5).attr("y", 79).attr("width", 45).attr("height", 32).attr("rx", 4).attr("fill", "#fff").attr("stroke", "#2962ff")
txt(172, 92, "6.18", 11.5, { anchor: "middle", color: "#2962ff", weight: 700 })
txt(172, 106, "BUY", 11.5, { anchor: "middle", color: "#2962ff" })

const refresh = (rx, ry) => {
  svg.append("circle").attr("cx", rx).attr("cy", ry).attr("r", 9).attr("fill", "#ece6f6")
  icon(rx, ry, "M-5,-1a5,5 0 0 1 9,-2M5,1a5,5 0 0 1 -9,2M4,-6V-2.5H0.5M-4,6V2.5H-0.5", { color: "#7c3aed", width: 1.3 })
}
const paneToggle = (by) => {
  svg.append("rect").attr("x", 65.5).attr("y", by + .5).attr("width", 28).attr("height", 19).attr("rx", 3).attr("fill", "#fff").attr("stroke", "#dfe1e5")
  chevron(79.5, by + 10)
}
svg.append("rect").attr("x", 65.5).attr("y", 116.5).attr("width", 38).attr("height", 19).attr("rx", 3).attr("fill", "#fff").attr("stroke", "#dfe1e5")
chevron(74, 126)
txt(85, 131, "12", 13)
refresh(129, 126)
paneToggle(587); refresh(119, 597)
paneToggle(680); refresh(119, 690)
paneToggle(781); refresh(119, 791)

// currency selectors
;[47, 584, 677].forEach(by => {
  svg.append("rect").attr("x", 967.5).attr("y", by + .5).attr("width", 59).attr("height", 24).attr("rx", 4).attr("fill", "#fff").attr("stroke", "#e6e8ec")
  txt(971, by + 17, "MYR", 12, { color: "#2a2e39" })
  chevron(1020, by + 13)
})

// wave tools floating panel
svg.append("rect").attr("x", 541).attr("y", 100).attr("width", 99).attr("height", 37).attr("rx", 5).attr("fill", "#fff").attr("filter", "url(#soft)")
for (let r = 0; r < 3; r++) for (let c = 0; c < 2; c++) {
  svg.append("circle").attr("cx", 549 + c * 5).attr("cy", 114 + r * 5).attr("r", 1.1).attr("fill", "#c8cad0")
}
const waveIcon = (wx, a, b) => {
  icon(wx, 124, "M-10,3L-3,-4L3,3L10,-4", { dots: [[-10, 3, 1.8], [-3, -4, 1.8], [3, 3, 1.8], [10, -4, 1.8]], width: 1 })
  txt(wx - 3, 113, a, 8.5, { anchor: "middle", weight: 700 })
  txt(wx + 11, 113, b, 8.5, { anchor: "middle", weight: 700 })
}
waveIcon(583, "1", "5")
waveIcon(621, "A", "C")

// left tool rail
const LX = 26
icon(LX, 105, "M-7,8L7,-8", { dots: [[-8, 9], [8, -9]] })
icon(LX, 144, "M-11,-10H11M-11,-3H7M-8,4H11M-6,11H11", { dots: [[10, -3], [-9, 4]] })
icon(LX, 181, "M-8,9L-5,-9L0,1L7,-9L9,8L0,1Z", { dots: [[-8, 9], [-5, -9], [7, -9], [9, 8], [0, 1]] })
icon(LX, 219, "M-6,-8H11M-6,8H11M-6,3H11", { dots: [[-9, -8], [-9, 8]] })
txt(LX + 2, 222, "L", 8, { anchor: "middle" })
icon(LX, 258, "M-10,9C-9,1 -3,-3 3,-2C4,3 -1,8 -10,9ZM3,-2C5,-1 5,0 5,2M5,-2L13,-9", { width: 1 })
icon(LX, 295, "M-8,-9H8M-8,-9V-7M8,-9V-7M0,-9V9M-3,9H3", { width: 1 })
icon(LX, 333, "M-11,0a11,11 0 1 0 22,0a11,11 0 1 0 -22,0M-4,4a5,5 0 0 0 8,0", { width: 1 })
svg.append("circle").attr("cx", LX - 4).attr("cy", 331).attr("r", 1).attr("fill", ink)
svg.append("circle").attr("cx", LX + 4).attr("cy", 331).attr("r", 1).attr("fill", ink)
hsep(9, 44, 358)
icon(LX, 383, "M-12,5L5,-11L11,-5L-6,11ZM-7,1L-5,3M-3,-3L0,0M1,-7L3,-5M5,-10L8,-7", { width: 1 })
icon(LX, 421, "M-9,-1a8,8 0 1 0 16,0a8,8 0 1 0 -16,0M-4,-1H2M-1,-4V2M5,5L10,10", { width: 1 })
hsep(9, 44, 447)
icon(LX, 472, "M-10,10V-1a10,10 0 0 1 20,0V10H4V-1a4,4 0 0 0 -8,0V10ZM-10,4H-4M4,4H10", { width: 1 })
icon(LX - 2, 510, "M-9,7L-8,2L2,-9L7,-4L-4,7ZM-5,-1L0,4", { width: 1 })
icon(LX + 6, 516, "M-4,-1H6V6H-4ZM-2,-1V-4a3,3 0 0 1 6,-1", { width: 1 })
icon(LX, 549, "M-8,-2H8V9H-8ZM-5,-2V-6a5,5 0 0 1 10,-2M0,2V5", { width: 1 })
icon(LX, 587, "M-12,0C-7,-8 7,-8 12,0C7,8 -7,8 -12,0ZM-3.5,0a3.5,3.5 0 1 0 7,0a3.5,3.5 0 1 0 -7,0", { width: 1 })
icon(LX, 625, "M-2,-5L3,-10a4,4 0 0 1 6,6L4,1M2,5L-3,10a4,4 0 0 1 -6,-6L-4,-1M-3,3L3,-3", { color: "#555", width: 1 })
hsep(9, 44, 650)
icon(LX, 676, "M-9,-8H9M-4,-8V-10H4V-8M-7,-8L-6,10H6L7,-8", { width: 1 })
svg.append("rect").attr("x", 9).attr("y", 1025).attr("width", 34).attr("height", 34).attr("rx", 5).attr("fill", "#2a2a2a")
const star = d3.range(10).map(k => {
  const a = -Math.PI / 2 + k * Math.PI / 5, r = k % 2 ? 4.2 : 9.5
  return [r * Math.cos(a), r * Math.sin(a)]
})
icon(26, 1042, d3.line()(star) + "Z", { color: "#fff" })

// right rail
const RX = 1058
icon(RX, 66, "M-9,-11H9V11L0,8L-9,11ZM-5,-6H5M-5,-2H5M-5,2H5", { width: 1 })
icon(RX, 111, "M-10,1a10,10 0 1 0 20,0a10,10 0 1 0 -20,0M0,-5V2H-5M-11,-10L-7,-12M11,-10L7,-12", { width: 1 })
icon(RX, 157, "M0,-9L11,-3L0,3L-11,-3ZM-11,2L0,8L11,2", { width: 1 })
icon(RX, 203, "M-12,-9H12V8H-5L-9,12V8H-12Z", { width: 1 })
badge(1068, 193, "1", 15)
icon(RX, 772, "M-14,0a14,14 0 1 0 28,0a14,14 0 1 0 -28,0M-8,0a8,8 0 1 0 16,0a8,8 0 1 0 -16,0M0,0L9,-9", { width: 1 })
svg.append("circle").attr("cx", RX).attr("cy", 772).attr("r", 2.2).attr("fill", ink)
icon(RX, 815, "M-13,11H13L7,2L0,8L-7,2ZM-9,0L0,-11L9,0L0,6Z", { width: 1 })
icon(RX, 860, "M-12,-8H12V12H-12ZM-12,-3H12M-6,-11V-5M6,-11V-5", { width: 1 })
icon(RX, 909, "M-10,10V9M-10,2a8,8 0 0 1 8,8M-10,-4a14,14 0 0 1 14,14M-3,-10a20,20 0 0 1 13,20", { width: 1.1 })
badge(1061, 896, "99+", 28)
icon(RX, 956, "M-12,8H12M-9,8V-2a9,9 0 0 1 18,0V8M-3,8a3,3 0 0 0 6,0", { width: 1 })
badge(1065, 942, "59", 22)
svg.append("circle").attr("cx", RX).attr("cy", 998).attr("r", 17).attr("fill", "#2a2a2a")
for (let r = -1; r < 2; r++) for (let c = -1; c < 2; c++) {
  svg.append("rect").attr("x", RX + c * 7 - 2.4).attr("y", 998 + r * 7 - 2.4).attr("width", 4.8).attr("height", 4.8).attr("rx", .8).attr("fill", "#fff")
}
hsep(1041, 1075, 1027)
icon(RX, 1056, "M-14,0a14,14 0 1 0 28,0a14,14 0 1 0 -28,0", { width: 1 })
txt(RX, 1063, "?", 19, { anchor: "middle" })

// bottom bar
icon(997, 1027, "M-7,0L-3.5,-6H3.5L7,0L3.5,6H-3.5ZM-2,0a2,2 0 1 0 4,0a2,2 0 1 0 -4,0", { width: 1 })
const ranges = [["1D", 79], ["5D", 109], ["1M", 140], ["3M", 172], ["6M", 204], ["YTD", 239], ["1Y", 272], ["5Y", 300], ["All", 328]]
ranges.forEach(d => txt(d[1], 1066, d[0], 13.5, { anchor: "middle" }))
vsep(349, 1050, 1071)
icon(370, 1061, "M-9,-6H9V8H-9ZM-9,-2H9M-4,-9V-4M4,-9V-4M-9,4H-3M-1,4H4", { width: 1 })
txt(874, 1066, "00:31:54 UTC+8", 13.5)
vsep(983, 1050, 1071)
txt(1008, 1066, "ADJ", 13.5, { anchor: "middle", color: "#1e3a6e" })

// account tooltip sits over everything on the top left
svg.append("path").attr("d", "M20,43L26.5,37L33,43Z").attr("fill", "#2b2b2b")
svg.append("rect").attr("x", 10).attr("y", 43).attr("width", 211).attr("height", 41).attr("rx", 3).attr("fill", "#2b2b2b")
txt(18, 59, "Logged in as MahersahamOfficial", 12.2, { color: "#e6e6e6" })
txt(18, 77, "Active layout: INtraswing 1D", 12.2, { color: "#e6e6e6" })
</script>
</body>
</html>
